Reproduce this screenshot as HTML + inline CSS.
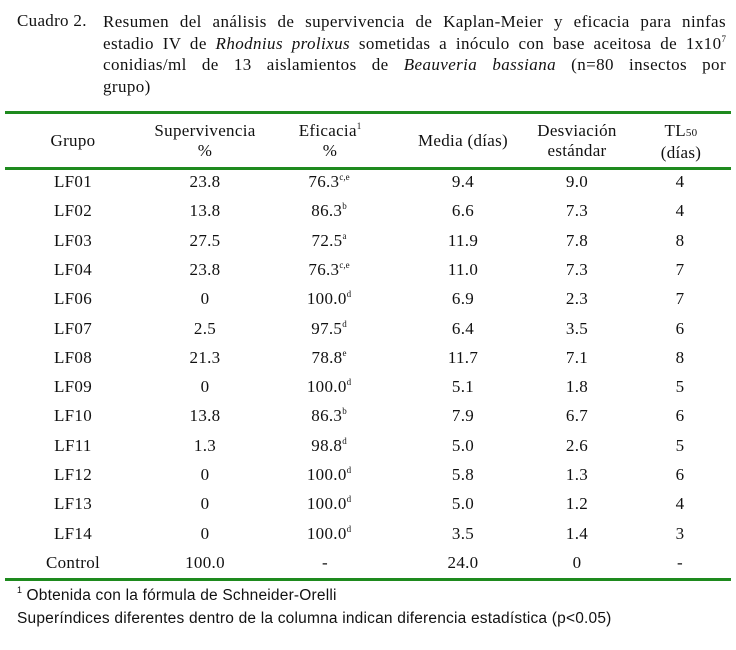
<!DOCTYPE html>
<html><head><meta charset="utf-8"><style>
body{margin:0;width:736px;height:650px;background:#fff;position:relative;font-family:"Liberation Serif",serif;color:#111;overflow:hidden}
.t{position:absolute;left:103px;width:623px;font-size:17px;letter-spacing:0.4px;line-height:21.5px}
.t div{text-align:justify;text-align-last:justify;white-space:nowrap}
.t div.l{text-align-last:left}
.c2{position:absolute;left:17px;top:11px;font-size:17px;letter-spacing:0.3px}
.hl{position:absolute;left:5px;width:726px;background:#1e8a1e}
.cell{position:absolute;font-size:17px;letter-spacing:0.3px;text-align:center;transform:translateX(-50%);white-space:nowrap;line-height:20px}
sup{font-size:9px;vertical-align:7px;line-height:0;letter-spacing:0}
.f{position:absolute;left:17px;font-family:"Liberation Sans",sans-serif;font-size:15.5px;letter-spacing:0.2px}
</style></head><body>
<div class="c2">Cuadro 2.</div>
<div class="t" style="top:11px">
<div style="white-space:normal">Resumen del análisis de supervivencia de Kaplan-Meier y eficacia para ninfas</div>
<div style="white-space:normal">estadio IV de <i>Rhodnius prolixus</i> sometidas a inóculo con base aceitosa de 1x10<sup>7</sup></div>
<div style="white-space:normal">conidias/ml de 13 aislamientos de <i>Beauveria bassiana</i> (n=80 insectos por</div>
<div class="l">grupo)</div>
</div>
<div class="hl" style="top:111px;height:3px"></div>
<div class="hl" style="top:167px;height:3px"></div>
<div class="hl" style="top:578px;height:3px"></div>
<div class="cell" style="left:73px;top:131px">Grupo</div>
<div class="cell" style="left:205px;top:121px">Supervivencia<br>%</div>
<div class="cell" style="left:330px;top:121px">Eficacia<sup>1</sup><br>%</div>
<div class="cell" style="left:463px;top:131px">Media (días)</div>
<div class="cell" style="left:577px;top:121px">Desviación<br>estándar</div>
<div class="cell" style="left:681px;top:121px">TL<span style="font-size:11px">50</span><br>(días)</div>
<div id="rows"></div>
<script>
var d=[["LF01","23.8","76.3","c,e","9.4","9.0","4"],["LF02","13.8","86.3","b","6.6","7.3","4"],["LF03","27.5","72.5","a","11.9","7.8","8"],["LF04","23.8","76.3","c,e","11.0","7.3","7"],["LF06","0","100.0","d","6.9","2.3","7"],["LF07","2.5","97.5","d","6.4","3.5","6"],["LF08","21.3","78.8","e","11.7","7.1","8"],["LF09","0","100.0","d","5.1","1.8","5"],["LF10","13.8","86.3","b","7.9","6.7","6"],["LF11","1.3","98.8","d","5.0","2.6","5"],["LF12","0","100.0","d","5.8","1.3","6"],["LF13","0","100.0","d","5.0","1.2","4"],["LF14","0","100.0","d","3.5","1.4","3"],["Control","100.0","-","","24.0","0","-"]];
var xs=[73,205,325,463,577,680],h="";
d.forEach(function(r,i){var y=172+i*29.3;
var v=[r[0],r[1],r[2]+(r[3]?"<sup>"+r[3]+"</sup>":""),r[4],r[5],r[6]];
v.forEach(function(s,j){var x=xs[j];if(j==2&&r[3])x+=4;h+='<div class="cell" style="left:'+x+'px;top:'+y+'px">'+s+'</div>';});});
document.getElementById("rows").innerHTML=h;
</script>
<div class="f" style="top:587px"><sup>1</sup> Obtenida con la fórmula de Schneider-Orelli</div>
<div class="f" style="top:610px">Superíndices diferentes dentro de la columna indican diferencia estadística (p&lt;0.05)</div>
</body></html>
